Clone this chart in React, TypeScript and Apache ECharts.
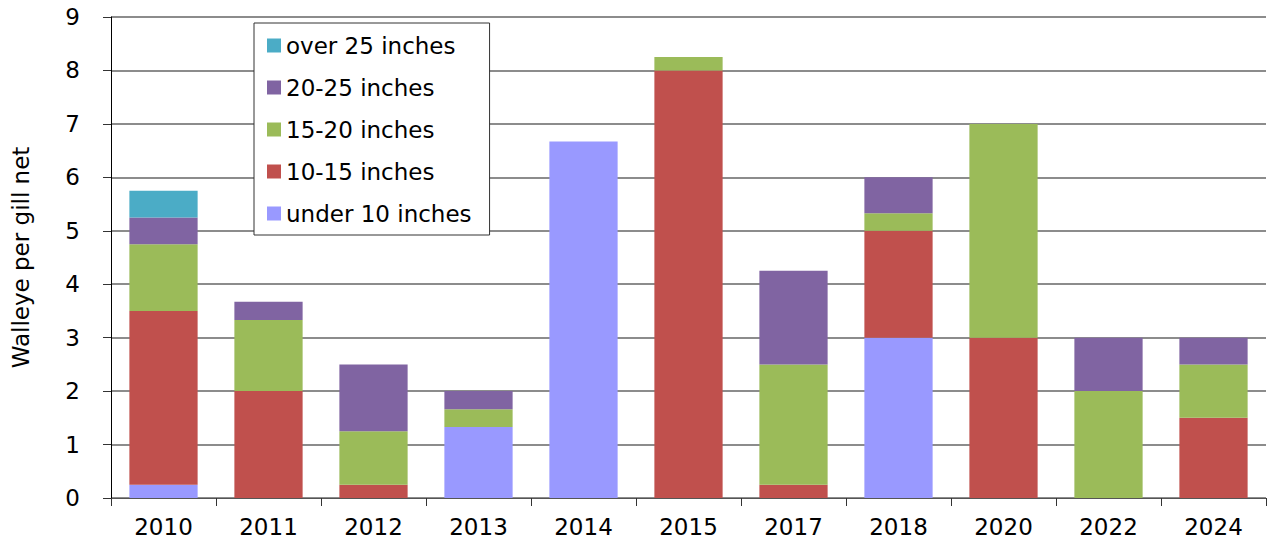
import React, { useEffect, useRef } from "react";
import * as echarts from "echarts";

const years = ["2010", "2011", "2012", "2013", "2014", "2015", "2017", "2018", "2020", "2022", "2024"];
const under10 = [0.25, 0, 0, 1.33, 6.67, 0, 0, 3, 0, 0, 0];
const in10to15 = [3.25, 2, 0.25, 0, 0, 8, 0.25, 2, 3, 0, 1.5];
const in15to20 = [1.25, 1.33, 1, 0.33, 0, 0.25, 2.25, 0.33, 4, 2, 1];
const in20to25 = [0.5, 0.34, 1.25, 0.34, 0, 0, 1.75, 0.67, 0, 1, 0.5];
const over25 = [0.5, 0, 0, 0, 0, 0, 0, 0, 0, 0, 0];

const seriesNames = ["under 10 inches", "10-15 inches", "15-20 inches", "20-25 inches", "over 25 inches"];
const seriesColors = ["#9999FF", "#C0504D", "#9BBB59", "#8064A2", "#4BACC6"];
const legendOrder = ["over 25 inches", "20-25 inches", "15-20 inches", "10-15 inches", "under 10 inches"];
const yTicks = [0, 1, 2, 3, 4, 5, 6, 7, 8, 9];

const FONT = "DejaVu Sans, Arial, Helvetica, sans-serif";
const FS = 23;

export default function App() {
  const ref = useRef<HTMLDivElement>(null);
  useEffect(() => {
    if (!ref.current) return;
    const chart = echarts.init(ref.current, undefined, { renderer: "svg" });
    const data = [under10, in10to15, in15to20, in20to25, over25];
    chart.setOption({
      animation: false,
      textStyle: { fontFamily: FONT },
      grid: { left: 111, right: 4, top: 17, bottom: 46, containLabel: false },
      legend: {
        orient: "vertical",
        left: 254,
        top: 23,
        data: legendOrder,
        backgroundColor: "#fff",
        borderColor: "#333",
        borderWidth: 1,
        padding: [11, 18, 10, 13],
        itemWidth: 14,
        itemHeight: 14,
        itemGap: 19,
        icon: "rect",
        textStyle: { fontSize: FS, color: "#000", lineHeight: 23, padding: [0, 0, 0, 0], fontFamily: FONT },
      },
      xAxis: {
        type: "category",
        data: years,
        axisLine: { lineStyle: { color: "#555", width: 1 } },
        axisTick: { show: true, length: 8, lineStyle: { color: "#333" } },
        axisLabel: { fontSize: FS, color: "#000", margin: 17, fontFamily: FONT },
      },
      yAxis: {
        type: "value",
        min: 0,
        max: 9,
        interval: 1,
        name: "Walleye per gill net",
        nameLocation: "middle",
        nameGap: 79,
        nameRotate: 90,
        nameTextStyle: { fontSize: FS, color: "#000", fontFamily: FONT },
        axisLine: { show: true, lineStyle: { color: "#000", width: 1 } },
        axisTick: { show: true, length: 8, inside: false, lineStyle: { color: "#333" } },
        axisLabel: {
          fontSize: FS,
          color: "#000",
          margin: 31,
          fontFamily: FONT,
          formatter: (v: number) => (yTicks.includes(v) ? String(v) : ""),
        },
        splitLine: { show: true, lineStyle: { color: "#8c8c8c", width: 2 } },
      },
      series: seriesNames.map((name, i) => ({
        name,
        type: "bar",
        stack: "total",
        data: data[i],
        barWidth: "65%",
        itemStyle: { color: seriesColors[i] },
      })),
    });
    return () => chart.dispose();
  }, []);
  return (
    <div
      ref={ref}
      style={{ position: "fixed", left: 0, top: 0, width: 1270, height: 544, background: "#fff" }}
    />
  );
}
